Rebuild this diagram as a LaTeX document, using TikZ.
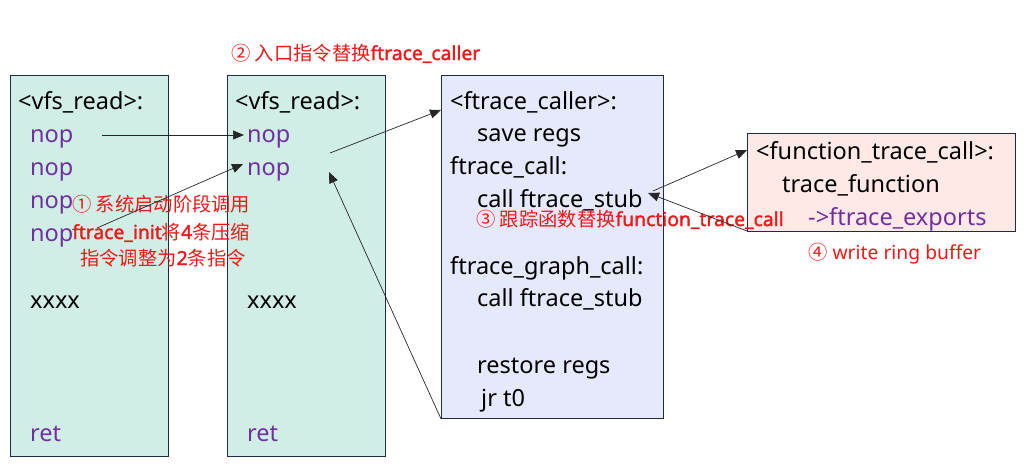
\documentclass[tikz,border=0pt]{standalone}
\usepackage{fontspec}
\setmainfont{Noto Sans}[AutoFakeBold=1.6]
\newfontfamily\cjk{Noto Sans CJK SC}
\usetikzlibrary{arrows.meta}
\definecolor{tealfill}{HTML}{D0EEE6}
\definecolor{lavfill}{HTML}{E6E9FB}
\definecolor{pinkfill}{HTML}{FFE9E6}
\definecolor{edge}{HTML}{1F2A44}
\definecolor{purp}{HTML}{7030A0}
\definecolor{redtxt}{HTML}{F01818}
\tikzset{
  box/.style={draw=edge, line width=0.9pt, anchor=north west, inner sep=0pt},
  code/.style={font=\fontsize{23.5}{28}\selectfont, inner sep=0pt, anchor=base west, text=black},
  kw/.style={code, text=purp},
  note/.style={font=\fontsize{19.3}{23}\selectfont, inner sep=0pt, anchor=base west, text=redtxt},
  arr/.style={draw=black!85, line width=0.7pt, -{Triangle[length=11pt,width=9pt]}},
}
\begin{document}
\begin{tikzpicture}[x=1pt,y=-1pt]
\useasboundingbox (0,0) rectangle (1036,472);
% boxes
\node[box, fill=tealfill, minimum width=158pt, minimum height=381pt] (b1) at (10,75) {};
\node[box, fill=tealfill, minimum width=158pt, minimum height=381pt] (b2) at (227,75) {};
\node[box, fill=lavfill, minimum width=222pt, minimum height=343pt] (b3) at (441,75) {};
\node[box, fill=pinkfill, minimum width=268pt, minimum height=98pt] (b4) at (747,133) {};
% box 1
\node[code] (t1) at (18,109) {<vfs\_read>:};
\node[kw] (n1a) at (30,142) {nop};
\node[kw] (n1b) at (30,175) {nop};
\node[kw] (n1c) at (30,208) {nop};
\node[kw] (n1d) at (30,241) {nop};
\node[code] (x1) at (30,308) {xxxx};
\node[kw] (r1) at (30,441) {ret};
% box 2
\node[code] (t2) at (235,109) {<vfs\_read>:};
\node[kw] (n2a) at (247,142) {nop};
\node[kw] (n2b) at (247,175) {nop};
\node[code] (x2) at (247,308) {xxxx};
\node[kw] (r2) at (247,441) {ret};
% box 3
\node[code] (t3) at (450,109) {<ftrace\_caller>:};
\node[code] (s3) at (477,141) {save regs};
\node[code] (f3) at (450,174) {ftrace\_call:};
\node[code] (c3a) at (477,207) {call ftrace\_stub};
\node[code] (g3) at (450,274) {ftrace\_graph\_call:};
\node[code] (c3b) at (477,306) {call ftrace\_stub};
\node[code] (rr3) at (477,373) {restore regs};
\node[code] (j3) at (481,406) {jr t0};
% box 4
\node[code] (t4) at (756,159) {<function\_trace\_call>:};
\node[code] (tf4) at (782,192) {trace\_function};
\node[kw] (fe4) at (808,225) {->ftrace\_exports};
% red notes
\node[note] (l2) at (231,60) {{\cjk ② 入口指令替换}\textbf{ftrace\_caller}};
\node[note] (l1a) at (72,211) {{\cjk ① 系统启动阶段调用}};
\node[note] (l1b) at (72,239) {\textbf{ftrace\_init}{\cjk 将}\textbf{4}{\cjk 条压缩}};
\node[note] (l1c) at (80,265) {{\cjk 指令调整为}\textbf{2}{\cjk 条指令}};
\node[note] (l3) at (476,226) {{\cjk ③ 跟踪函数替换}\textbf{function\_trace\_call}};
\node[note] (l4) at (808,259) {{\cjk ④} write ring buffer};
% connector ends
\coordinate (p1s) at (102,135);
\coordinate (p1e) at (244,135);
\coordinate (p2s) at (97,228);
\coordinate (p2e) at (243,164);
\coordinate (p3s) at (330,153);
\coordinate (p3e) at (441,110);
\coordinate (p4e) at (329,172);
\coordinate (p5s) at (653,191);
\coordinate (p5e) at (747,150);
\coordinate (p6s) at (747,231);
\coordinate (p6e) at (648,193);
\draw[arr] (p1s) -- (p1e);
\draw[arr] (p2s) -- (p2e);
\draw[arr] (p3s) -- (p3e);
\draw[arr] (b3.south west) -- (p4e);
\draw[arr] (p5s) -- (p5e);
\draw[arr] (p6s) -- (p6e);
\end{tikzpicture}
\end{document}
